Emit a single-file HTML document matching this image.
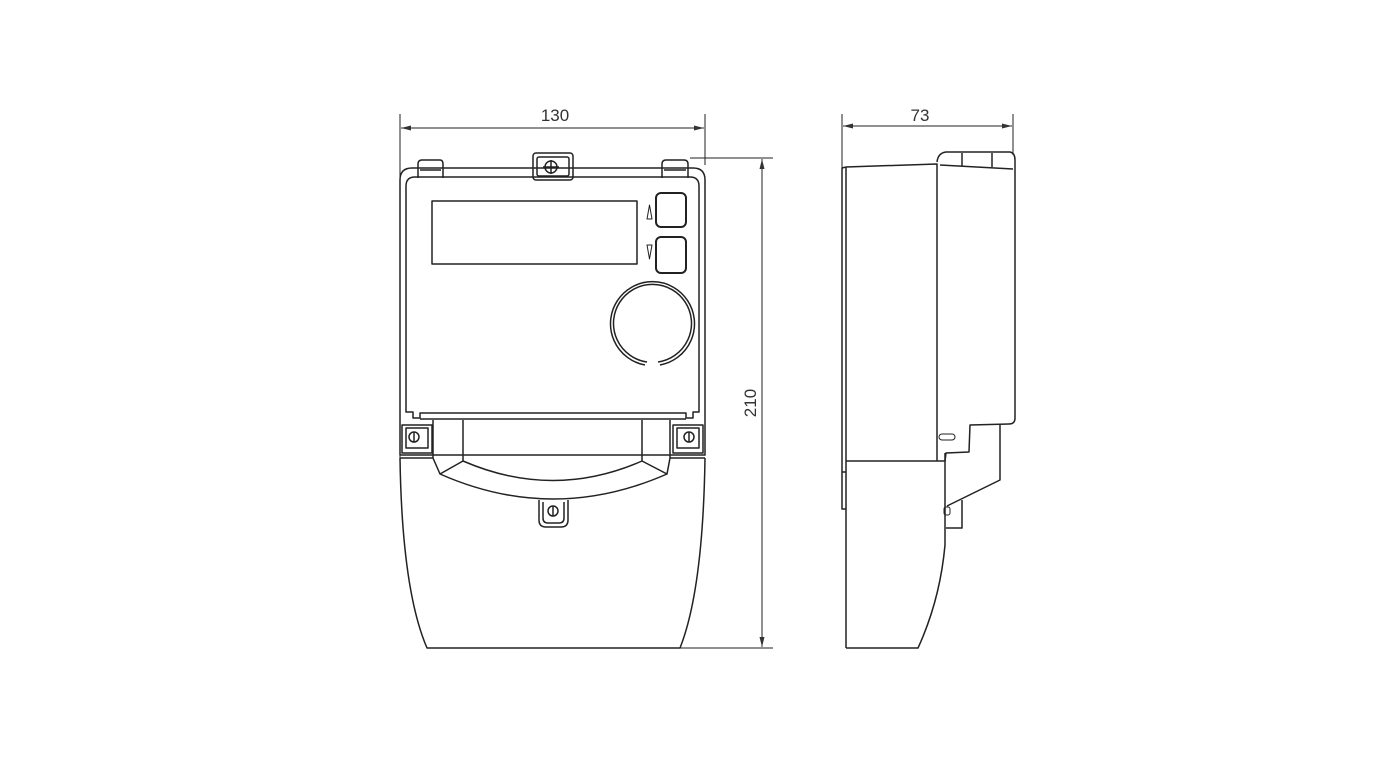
<!DOCTYPE html>
<html><head><meta charset="utf-8"><style>
html,body{margin:0;padding:0;background:#fff;}
svg{display:block}
text{font-family:"Liberation Sans",sans-serif;fill:#333}
</style></head><body>
<svg width="1382" height="777" viewBox="0 0 1382 777" xmlns="http://www.w3.org/2000/svg">
<g fill="none" stroke="#222" stroke-width="1.5" stroke-linejoin="round">
<line x1="400" y1="114" x2="400" y2="460" stroke-width="1"/>
<line x1="705" y1="114" x2="705" y2="165" stroke-width="1"/>
<line x1="401" y1="128" x2="704" y2="128" stroke-width="1"/>
<path d="M401,128 l10,-2.5 v5z M704,128 l-10,-2.5 v5z" fill="#333" stroke="none"/>
<line x1="690" y1="158" x2="773" y2="158" stroke-width="1"/>
<line x1="680" y1="648" x2="773" y2="648" stroke-width="1"/>
<line x1="762" y1="159" x2="762" y2="647" stroke-width="1"/>
<path d="M762,159 l-2.5,10 h5z M762,647 l-2.5,-10 h5z" fill="#333" stroke="none"/>

<path d="M400,180 Q400,168 412,168 L693,168 Q705,168 705,180 L705,455 L400,455 Z"/>
<path d="M406,186 Q406,177 415,177 L690,177 Q699,177 699,186 L699,412 L693,412 L693,418 L686,418 L686,413 L420,413 L420,418 L413,418 L413,412 L406,412 Z"/>
<line x1="420" y1="419" x2="686" y2="419"/>
<path d="M418,178 L418,164 Q418,160 422,160 L440,160 Q443,160 443,164 L443,178"/>
<line x1="420" y1="170" x2="441" y2="170"/>
<path d="M662,178 L662,164 Q662,160 666,160 L684,160 Q688,160 688,164 L688,178"/>
<line x1="664" y1="170" x2="686" y2="170"/>
<rect x="533" y="153" width="40" height="27" rx="3"/>
<rect x="537" y="157" width="32" height="19" rx="2"/>
<circle cx="551" cy="167" r="6"/>
<line x1="551" y1="160" x2="551" y2="174"/>
<line x1="543" y1="167" x2="559" y2="167"/>
<rect x="432" y="201" width="205" height="63"/>
<rect x="656" y="193" width="30" height="34" rx="5" stroke-width="2"/>
<rect x="656" y="237" width="30" height="36" rx="5" stroke-width="2"/>
<path d="M647,219 L649.5,205 L652,219 Z" stroke-width="1"/>
<path d="M647,245 L649.5,259 L652,245 Z" stroke-width="1"/>
<path d="M645,365 A42,42 0 1 1 660,365"/>
<path d="M647,362 A39,39 0 1 1 658,362"/>

<rect x="402" y="425" width="30" height="28"/>
<rect x="406" y="428" width="22" height="20"/>
<circle cx="414" cy="437" r="5"/><line x1="414" y1="432" x2="414" y2="442"/>
<rect x="673" y="425" width="30" height="28"/>
<rect x="677" y="428" width="22" height="20"/>
<circle cx="689" cy="437" r="5"/><line x1="689" y1="432" x2="689" y2="442"/>
<path d="M433,420 L433,458 L440,474 Q553,524 667,474 L670,458 L670,420"/>
<path d="M463,420 L463,461 Q553,500 642,461 L642,420"/>
<line x1="463" y1="461" x2="440" y2="474"/>
<line x1="642" y1="461" x2="667" y2="474"/>
<line x1="433" y1="458" x2="400" y2="458"/>
<line x1="670" y1="458" x2="705" y2="458"/>
<path d="M400,458 Q402,590 427,648 L680,648 Q703,590 705,458"/>
<path d="M539,500 L539,520 Q539,527 546,527 L561,527 Q568,527 568,520 L568,500"/>
<path d="M543,502 L543,518 Q543,523 548,523 L559,523 Q564,523 564,518 L564,502"/>
<circle cx="553" cy="511" r="5"/><line x1="553" y1="506" x2="553" y2="516"/>

<line x1="842" y1="114" x2="842" y2="172" stroke-width="1"/>
<line x1="1013" y1="114" x2="1013" y2="155" stroke-width="1"/>
<line x1="843" y1="126" x2="1012" y2="126" stroke-width="1"/>
<path d="M843,126 l10,-2.5 v5z M1012,126 l-10,-2.5 v5z" fill="#333" stroke="none"/>
<path d="M846,167 L842,168 L842,509 L846,509"/>
<line x1="842" y1="472" x2="846" y2="472"/>
<path d="M846,167 L937,164 L937,461"/>
<line x1="846" y1="167" x2="846" y2="648"/>
<path d="M937,162 Q938,153 946,152 L1010,152 Q1015,153 1015,160 L1015,418 Q1015,424 1009,424 L970,425 L969,452 L946,453 L945,461 L846,461"/>
<path d="M940,165 L1013,169"/>
<line x1="962" y1="153" x2="962" y2="166"/>
<line x1="992" y1="153" x2="992" y2="167"/>
<path d="M945,453 L945,545 Q940,600 918,648 L846,648"/>
<path d="M1000,425 L1000,480 L947,506"/>
<path d="M962,500 L962,528 L946,528"/>
<rect x="939" y="434" width="16" height="6" rx="3" stroke-width="1"/>
<rect x="944" y="507" width="6" height="8" rx="2" stroke-width="1"/>
</g>
<text x="555" y="121" font-size="17" text-anchor="middle">130</text>
<text x="920" y="121" font-size="17" text-anchor="middle">73</text>
<text x="0" y="0" font-size="17" text-anchor="middle" transform="translate(756,403) rotate(-90)">210</text>
</svg>
</body></html>
